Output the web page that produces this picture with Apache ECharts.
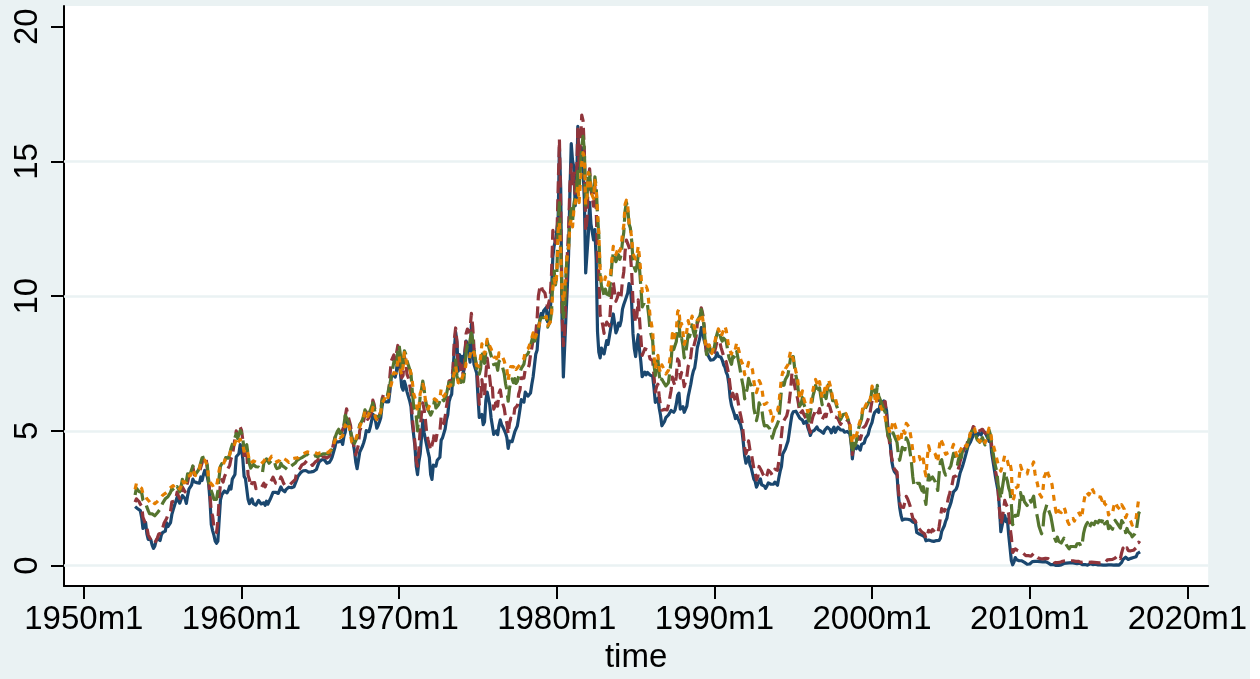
<!DOCTYPE html>
<html><head><meta charset="utf-8">
<script src="https://cdn.jsdelivr.net/npm/echarts@6/dist/echarts.min.js"></script>
<style>html,body{margin:0;padding:0;background:#fff}#c{width:1250px;height:679px}</style>
</head><body><div id="c"></div>
<script>
// monthly series starting 1953m4
const startYear = 1953, startMonth = 4;
const tb3m = [
2.19,2.16,2.11,2.04,2.04,1.79,1.38,1.44,1.60,
1.18,0.97,1.00,0.96,0.76,0.64,0.72,0.92,1.01,0.98,0.93,1.14,
1.23,1.17,1.28,1.59,1.45,1.41,1.60,1.90,2.07,2.23,2.24,2.54,
2.41,2.32,2.25,2.60,2.61,2.49,2.31,2.60,2.84,2.90,2.99,3.21,
3.11,3.10,3.08,3.06,3.06,3.29,3.16,3.37,3.53,3.58,3.29,3.04,
2.44,1.53,1.30,1.13,0.91,0.83,0.91,1.69,2.44,2.63,2.67,2.77,
2.82,2.70,2.80,2.95,2.84,3.21,3.20,3.38,4.04,4.05,4.15,4.49,
4.35,3.96,3.31,3.23,3.29,2.46,2.30,2.30,2.48,2.30,2.37,2.25,
2.24,2.42,2.39,2.29,2.29,2.33,2.24,2.39,2.28,2.30,2.48,2.60,
2.72,2.73,2.72,2.73,2.68,2.73,2.92,2.82,2.78,2.74,2.83,2.87,
2.91,2.92,2.89,2.90,2.93,2.99,3.18,3.32,3.38,3.45,3.52,3.52,
3.52,3.53,3.54,3.47,3.48,3.48,3.46,3.50,3.53,3.57,3.64,3.84,
3.81,3.93,3.93,3.93,3.89,3.80,3.84,3.84,3.92,4.03,4.08,4.37,
4.59,4.65,4.59,4.62,4.64,4.50,4.80,4.96,5.37,5.35,5.32,4.96,
4.72,4.56,4.26,3.84,3.60,3.54,4.21,4.27,4.42,4.56,4.73,5.01,
5.08,4.97,5.14,5.36,5.62,5.54,5.38,5.10,5.20,5.33,5.49,5.92,
6.18,6.16,6.08,6.15,6.08,6.49,7.00,6.98,7.09,7.00,7.24,7.82,
7.87,7.13,6.63,6.51,6.84,6.68,6.45,6.41,6.12,5.90,5.28,4.87,
4.44,3.70,3.38,3.86,4.14,4.75,5.40,4.94,4.69,4.46,4.22,4.01,
3.38,3.20,3.73,3.71,3.69,3.91,3.98,4.02,4.66,4.74,4.78,5.07,
5.41,5.60,6.09,6.26,6.36,7.19,8.01,8.67,8.29,7.22,7.83,7.45,
7.77,7.12,7.96,8.33,8.23,7.90,7.55,8.96,8.06,7.46,7.47,7.15,
6.26,5.50,5.49,5.61,5.23,5.34,6.13,6.44,6.42,5.96,5.48,5.44,
4.87,4.88,5.00,4.86,5.20,5.41,5.23,5.14,5.08,4.92,4.75,4.35,
4.62,4.67,4.60,4.54,4.96,5.02,5.19,5.49,5.81,6.16,6.10,6.07,
6.44,6.45,6.29,6.29,6.41,6.73,7.01,7.08,7.85,7.99,8.64,9.08,
9.35,9.27,9.46,9.49,9.58,9.05,9.26,9.45,10.18,11.47,11.87,12.07,
12.04,12.81,15.53,14.00,9.15,7.00,8.13,9.26,10.32,11.58,13.89,15.66,
15.02,14.79,13.36,13.69,16.30,14.73,14.95,15.51,14.70,13.54,10.86,10.85,
12.28,13.48,12.68,12.70,12.09,12.47,11.35,8.68,7.92,7.71,8.07,7.94,
7.86,8.11,8.35,8.21,8.19,8.79,9.08,9.34,9.00,8.64,8.76,9.00,
8.90,9.09,9.52,9.69,9.83,9.87,10.12,10.47,10.37,9.74,8.61,8.06,
7.76,8.22,8.57,8.00,7.56,7.01,7.05,7.18,7.08,7.17,7.20,7.07,
7.04,7.03,6.59,6.06,6.12,6.21,5.84,5.57,5.19,5.18,5.35,5.49,
5.45,5.59,5.56,5.76,5.75,5.69,5.78,6.00,6.32,6.40,5.81,5.80,
5.90,5.69,5.69,5.92,6.27,6.50,6.73,7.02,7.23,7.34,7.68,8.09,
8.29,8.48,8.83,8.70,8.40,8.22,7.92,7.91,7.72,7.63,7.65,7.64,
7.64,7.74,7.90,7.77,7.74,7.73,7.62,7.45,7.36,7.17,7.06,6.74,
6.22,5.94,5.91,5.65,5.46,5.57,5.58,5.33,5.22,4.99,4.56,4.07,
3.80,3.84,4.04,3.75,3.63,3.66,3.21,3.13,2.91,2.86,3.13,3.22,
3.00,2.93,2.95,2.87,2.96,3.07,3.04,3.02,2.95,3.02,3.10,3.06,
2.98,3.25,3.50,3.68,4.14,4.14,4.33,4.48,4.62,4.95,5.29,5.60,
5.71,5.77,5.73,5.65,5.67,5.47,5.42,5.40,5.28,5.28,5.36,5.14,
5.00,4.83,4.96,4.95,5.02,5.09,5.15,5.05,5.09,4.99,5.03,4.91,
5.03,5.01,5.14,5.16,5.05,4.93,5.05,5.14,4.95,4.97,5.14,5.16,
5.04,5.09,5.03,4.95,5.00,4.98,4.96,4.90,4.61,3.96,4.41,4.39,
4.34,4.44,4.44,4.29,4.50,4.57,4.55,4.72,4.68,4.86,5.07,5.20,
5.32,5.55,5.69,5.66,5.79,5.69,5.96,6.09,6.00,6.11,6.17,5.77,
5.15,4.88,4.42,3.87,3.62,3.49,3.51,3.36,2.64,2.16,1.87,1.69,
1.65,1.73,1.79,1.72,1.73,1.70,1.68,1.62,1.63,1.58,1.23,1.19,
1.17,1.17,1.13,1.13,1.07,0.92,0.90,0.95,0.94,0.92,0.93,0.90,
0.88,0.93,0.94,0.94,1.02,1.27,1.33,1.48,1.65,1.76,2.07,2.19,
2.33,2.54,2.74,2.78,2.84,2.97,3.22,3.44,3.42,3.71,3.88,3.89,
4.24,4.43,4.51,4.60,4.72,4.79,4.95,4.96,4.81,4.92,4.94,4.85,
4.98,5.03,4.94,4.87,4.73,4.61,4.82,4.20,3.89,3.90,3.27,3.00,
2.75,2.12,1.26,1.29,1.73,1.86,1.63,1.72,1.13,0.67,0.19,0.03,
0.13,0.30,0.22,0.16,0.18,0.18,0.18,0.17,0.12,0.07,0.05,0.05,
0.06,0.11,0.15,0.16,0.16,0.12,0.16,0.16,0.15,0.13,0.14,0.14,
0.15,0.13,0.10,0.06,0.04,0.04,0.04,0.02,0.01,0.02,0.01,0.01,
0.03,0.09,0.08,0.08,0.09,0.09,0.10,0.10,0.11,0.10,0.09,0.07,
0.07,0.10,0.09,0.06,0.04,0.05,0.04,0.04,0.02,0.05,0.07,0.07,
0.04,0.05,0.05,0.03,0.03,0.04,0.03,0.03,0.02,0.02,0.02,0.03,
0.03,0.02,0.03,0.02,0.02,0.02,0.03,0.07,0.02,0.02,0.12,0.23,
0.26,0.31,0.29,0.23,0.27,0.27,0.30,0.30,0.29,0.33,0.45,0.51,
0.51];
const gs1 = [
2.36,2.48,2.45,2.38,2.28,2.20,1.79,1.67,1.66,
1.41,1.14,1.13,0.96,0.85,0.82,0.84,0.88,1.03,1.17,1.14,1.21,
1.39,1.57,1.59,1.75,1.90,1.91,2.02,2.37,2.36,2.39,2.48,2.73,
2.58,2.49,2.61,2.92,2.94,2.74,2.76,3.10,3.35,3.28,3.44,3.68,
3.37,3.38,3.42,3.49,3.48,3.65,3.81,4.01,4.07,4.01,3.57,3.18,
2.65,1.99,1.84,1.45,1.37,1.23,1.61,2.50,3.05,3.19,3.10,3.29,
3.36,3.54,3.61,3.72,3.96,4.07,4.39,4.42,5.00,4.80,4.81,5.14,
5.03,4.66,4.02,4.04,4.21,3.36,3.20,2.95,3.07,3.04,3.08,2.86,
2.81,2.93,2.88,2.88,2.87,3.06,2.92,3.06,3.06,3.05,3.07,3.18,
3.28,3.28,3.06,2.99,3.03,3.03,3.29,3.20,3.06,2.98,3.00,3.01,
3.04,3.01,3.03,3.11,3.12,3.20,3.48,3.53,3.57,3.64,3.74,3.81,
3.79,3.78,3.91,3.91,3.84,3.83,3.72,3.74,3.84,3.86,3.91,4.02,
3.94,4.03,4.06,4.04,4.03,3.99,3.98,4.07,4.20,4.30,4.37,4.72,
4.88,4.94,4.97,4.90,4.93,4.97,5.17,5.54,5.82,5.58,5.54,5.20,
4.75,4.71,4.35,4.11,4.15,4.48,5.01,5.13,5.24,5.37,5.61,5.71,
5.43,5.41,5.58,5.71,6.14,5.98,5.65,5.43,5.45,5.57,5.75,6.19,
6.34,6.41,6.34,6.26,6.42,7.04,7.60,7.54,7.82,7.64,7.89,8.17,
8.10,7.59,6.97,7.06,7.75,7.55,7.10,6.98,6.73,6.43,5.51,5.00,
4.57,3.89,3.69,4.30,5.04,5.64,6.04,5.80,5.41,4.91,4.67,4.60,
4.28,4.27,4.67,4.96,4.64,4.93,4.96,4.98,5.52,5.52,5.27,5.52,
5.89,6.19,6.85,6.85,6.89,7.31,8.39,8.82,8.31,7.40,7.57,7.27,
7.42,6.88,7.76,8.62,8.78,8.67,8.80,9.36,8.87,8.05,7.66,7.31,
6.83,5.98,6.11,6.90,6.39,6.29,7.11,7.70,7.75,6.95,6.49,6.60,
5.81,5.91,6.21,5.92,6.40,6.52,6.20,6.00,5.84,5.50,5.29,4.89,
5.29,5.47,5.50,5.44,5.84,5.80,5.94,6.37,6.53,6.97,6.95,6.96,
7.28,7.34,7.31,7.45,7.82,8.09,8.39,8.31,8.64,9.14,10.01,10.30,
10.41,10.24,10.25,10.12,10.12,9.57,9.64,9.98,10.84,12.44,12.39,11.98,
12.06,13.92,15.82,13.30,9.39,8.16,8.65,10.24,11.52,12.49,14.15,14.88,
14.08,14.57,13.71,14.32,16.20,14.86,15.72,16.72,16.52,15.38,12.41,12.85,
14.32,14.73,13.95,13.98,13.34,14.07,13.24,11.43,10.85,9.32,9.16,8.91,
8.62,8.92,9.04,8.98,8.90,9.66,10.20,10.53,10.16,9.81,9.94,10.11,
9.90,10.04,10.59,10.90,11.66,12.08,12.03,11.82,11.58,10.90,9.82,9.33,
9.02,9.29,9.86,9.14,8.46,7.80,7.86,8.05,8.07,8.01,7.88,7.67,
7.73,7.61,7.03,6.44,6.65,6.73,6.27,5.93,5.77,5.72,5.80,5.87,
5.78,5.96,6.03,6.50,7.00,6.80,6.68,7.03,7.67,7.59,6.96,7.17,
6.99,6.64,6.71,7.01,7.40,7.49,7.75,8.17,8.09,8.11,8.48,8.99,
9.05,9.25,9.57,9.36,8.98,8.44,7.89,8.18,8.22,7.99,7.77,7.72,
7.92,8.11,8.35,8.40,8.32,8.10,7.94,7.78,7.76,7.55,7.31,7.05,
6.64,6.27,6.40,6.24,6.13,6.36,6.31,5.78,5.57,5.33,4.89,4.38,
4.15,4.29,4.63,4.30,4.19,4.17,3.60,3.47,3.18,3.30,3.68,3.71,
3.50,3.39,3.33,3.24,3.36,3.54,3.47,3.44,3.36,3.39,3.58,3.61,
3.54,3.87,4.32,4.82,5.31,5.27,5.48,5.56,5.76,6.11,6.54,7.14,
7.05,6.70,6.43,6.27,6.00,5.64,5.59,5.75,5.62,5.59,5.43,5.31,
5.09,4.94,5.34,5.54,5.64,5.81,5.85,5.67,5.83,5.55,5.42,5.47,
5.61,5.53,5.80,5.99,5.87,5.69,5.54,5.56,5.52,5.46,5.46,5.53,
5.24,5.31,5.39,5.38,5.44,5.41,5.36,5.21,4.71,4.12,4.53,4.52,
4.51,4.70,4.78,4.69,4.85,5.10,5.03,5.20,5.25,5.43,5.55,5.84,
6.12,6.22,6.22,6.15,6.33,6.17,6.08,6.18,6.13,6.01,6.09,5.60,
4.81,4.68,4.30,3.98,3.78,3.58,3.62,3.47,2.82,2.33,2.18,2.22,
2.16,2.23,2.57,2.48,2.35,2.20,1.96,1.76,1.72,1.65,1.49,1.45,
1.36,1.30,1.24,1.27,1.18,1.01,1.12,1.31,1.24,1.25,1.34,1.31,
1.24,1.24,1.19,1.43,1.78,2.12,2.10,2.02,2.12,2.23,2.50,2.67,
2.86,3.03,3.30,3.32,3.33,3.36,3.64,3.87,3.85,4.18,4.33,4.35,
4.45,4.68,4.77,4.90,5.00,5.16,5.22,5.08,4.97,5.01,5.01,4.94,
5.06,5.05,4.92,4.93,4.91,4.96,4.96,4.47,4.14,4.10,3.50,3.26,
2.71,2.05,1.54,1.74,2.06,2.42,2.28,2.18,1.91,1.42,1.07,0.49,
0.44,0.62,0.64,0.55,0.50,0.51,0.48,0.46,0.40,0.37,0.31,0.37,
0.35,0.35,0.40,0.45,0.37,0.32,0.29,0.26,0.26,0.23,0.25,0.29,
0.27,0.29,0.26,0.25,0.19,0.18,0.19,0.11,0.10,0.11,0.11,0.12,
0.12,0.16,0.19,0.18,0.19,0.19,0.19,0.18,0.18,0.18,0.18,0.16,
0.15,0.16,0.15,0.12,0.12,0.14,0.12,0.13,0.12,0.12,0.12,0.13,
0.12,0.12,0.13,0.11,0.10,0.10,0.11,0.11,0.11,0.10,0.13,0.21,
0.20,0.22,0.25,0.23,0.24,0.28,0.30,0.38,0.37,0.26,0.48,0.65,
0.54,0.53,0.66,0.56,0.59,0.55,0.51,0.57,0.59,0.66,0.74,0.87,
0.83];
const gs5 = [
2.62,2.87,2.94,2.75,2.80,2.71,2.43,2.42,2.32,
2.17,2.04,1.93,1.87,1.92,1.92,1.85,1.90,1.96,2.02,2.09,2.16,
2.32,2.38,2.48,2.55,2.56,2.59,2.72,2.86,2.85,2.76,2.81,2.93,
2.84,2.74,2.93,3.20,3.08,2.97,3.12,3.41,3.47,3.40,3.56,3.70,
3.47,3.39,3.46,3.53,3.64,3.83,4.00,4.00,4.03,4.08,3.72,3.08,
2.88,2.78,2.64,2.46,2.41,2.46,2.77,3.29,3.69,3.78,3.70,3.82,
4.01,3.96,3.99,4.12,4.35,4.50,4.58,4.57,4.90,4.72,4.75,5.01,
4.92,4.69,4.31,4.29,4.49,4.12,3.79,3.62,3.61,3.76,3.81,3.67,
3.67,3.66,3.60,3.57,3.47,3.81,3.84,3.96,3.90,3.80,3.82,3.91,
3.94,3.89,3.68,3.60,3.66,3.64,3.80,3.71,3.70,3.64,3.60,3.56,
3.58,3.66,3.68,3.74,3.72,3.81,3.89,3.89,3.96,3.97,4.01,4.04,
4.07,4.03,4.14,4.15,4.05,4.02,4.03,4.05,4.08,4.07,4.04,4.09,
4.10,4.15,4.15,4.15,4.15,4.15,4.15,4.20,4.25,4.34,4.46,4.72,
4.86,4.98,5.06,4.90,4.94,5.01,5.22,5.58,5.62,5.38,5.43,5.07,
4.71,4.74,4.54,4.51,4.75,5.01,5.23,5.31,5.40,5.57,5.78,5.75,
5.54,5.59,5.76,5.69,6.04,5.85,5.60,5.50,5.48,5.55,5.66,6.12,
6.25,6.34,6.41,6.30,6.54,6.75,7.01,7.03,7.57,7.51,7.53,7.96,
8.17,7.82,7.21,7.50,7.97,7.85,7.59,7.57,7.29,7.12,6.47,5.95,
5.89,5.56,5.00,5.65,6.28,6.53,6.85,6.55,6.14,5.93,5.78,5.69,
5.59,5.69,5.87,6.17,5.85,5.91,5.97,6.02,6.25,6.18,6.12,6.16,
6.34,6.60,6.80,6.67,6.80,6.69,7.33,7.63,7.05,6.77,6.92,6.80,
6.95,6.82,7.31,7.92,8.18,8.10,8.38,8.63,8.37,7.97,7.68,7.31,
7.41,7.11,7.30,7.99,7.72,7.51,7.92,8.33,8.37,7.97,7.80,7.76,
7.46,7.45,7.49,7.25,7.59,7.61,7.49,7.31,7.13,6.75,6.52,6.10,
6.58,6.83,6.93,6.79,6.94,6.76,6.84,7.03,7.04,7.32,7.34,7.48,
7.77,7.83,7.86,7.98,8.18,8.36,8.54,8.33,8.43,8.61,8.84,9.08,
9.20,9.13,9.20,9.25,9.24,8.85,8.90,9.06,9.41,10.63,10.93,10.42,
10.74,12.60,13.47,11.84,9.95,9.21,9.53,10.84,11.62,11.86,12.83,13.25,
12.77,13.41,13.41,13.99,14.63,13.95,14.79,15.56,15.93,15.41,13.38,13.60,
14.65,14.54,13.98,14.00,13.75,14.43,14.07,13.00,12.25,10.80,10.38,10.22,
10.03,10.26,10.08,10.02,10.03,10.63,11.21,11.63,11.43,11.28,11.41,11.54,
11.37,11.54,12.02,12.37,13.17,13.48,13.27,12.68,12.53,12.06,11.33,11.07,
10.93,11.13,11.52,11.01,10.34,9.60,9.70,9.81,9.81,9.69,9.28,8.73,
8.68,8.34,7.46,7.05,7.52,7.64,7.06,6.80,6.92,6.83,6.76,6.67,
6.64,6.79,6.79,7.57,8.26,8.02,8.01,8.32,8.94,9.08,8.35,8.45,
8.18,7.71,7.83,8.19,8.58,8.49,8.66,8.94,8.69,8.51,8.79,9.09,
9.15,9.27,9.51,9.30,8.91,8.29,7.83,8.09,8.17,7.97,7.81,7.75,
8.12,8.42,8.60,8.77,8.74,8.43,8.33,8.44,8.51,8.33,8.02,7.73,
7.70,7.47,7.77,7.70,7.70,7.94,7.91,7.43,7.14,6.87,6.62,6.19,
6.24,6.58,6.95,6.78,6.69,6.48,5.84,5.60,5.38,5.60,6.04,6.08,
5.83,5.43,5.19,5.13,5.20,5.22,5.09,5.03,4.73,4.71,5.06,5.15,
5.09,5.40,5.94,6.52,6.78,6.70,6.91,6.88,7.08,7.40,7.72,7.78,
7.76,7.37,7.05,6.86,6.41,5.93,6.01,6.24,6.00,5.86,5.69,5.51,
5.36,5.38,5.97,6.30,6.48,6.69,6.64,6.39,6.60,6.27,5.97,6.07,
6.33,6.20,6.54,6.76,6.57,6.38,6.12,6.16,6.11,5.93,5.80,5.77,
5.42,5.49,5.61,5.61,5.63,5.52,5.46,5.27,4.62,4.18,4.54,4.45,
4.60,4.91,5.14,5.08,5.44,5.81,5.68,5.84,5.80,6.03,5.97,6.19,
6.58,6.68,6.50,6.26,6.69,6.30,6.18,6.06,5.93,5.78,5.70,5.17,
4.86,4.89,4.64,4.76,4.93,4.81,4.76,4.57,4.12,3.91,3.97,4.39,
4.34,4.30,4.74,4.65,4.49,4.19,3.81,3.29,2.94,2.95,3.05,3.03,
3.05,2.90,2.78,2.93,2.52,2.27,2.87,3.37,3.18,3.19,3.29,3.27,
3.12,3.07,2.79,3.39,3.85,3.93,3.69,3.47,3.36,3.35,3.53,3.60,
3.71,3.77,4.17,4.00,3.85,3.77,3.98,4.12,4.01,4.33,4.45,4.39,
4.35,4.57,4.72,4.90,5.00,5.07,5.04,4.82,4.67,4.69,4.58,4.53,
4.75,4.71,4.48,4.59,4.67,5.03,4.88,4.43,4.20,4.20,3.67,3.49,
2.98,2.78,2.48,2.84,3.15,3.49,3.30,3.14,2.88,2.73,2.29,1.52,
1.60,1.87,1.82,1.86,2.13,2.71,2.46,2.57,2.37,2.33,2.23,2.34,
2.48,2.36,2.43,2.58,2.18,2.00,1.76,1.47,1.41,1.18,1.35,1.93,
1.99,2.26,2.11,2.17,1.84,1.58,1.54,1.02,0.90,1.06,0.91,0.89,
0.84,0.83,1.02,0.89,0.76,0.71,0.62,0.71,0.67,0.71,0.67,0.70,
0.81,0.85,0.82,0.71,0.84,1.20,1.40,1.52,1.60,1.37,1.37,1.58,
1.65,1.52,1.64,1.70,1.59,1.68,1.70,1.63,1.77,1.55,1.62,1.64,
1.37,1.47,1.52,1.35,1.54,1.68,1.63,1.54,1.49,1.39,1.67,1.70,
1.52,1.22,1.38,1.26,1.30,1.17,1.07,1.13,1.18,1.27,1.60,1.96,
1.92];
const gs10 = [
2.83,3.05,3.11,2.93,2.95,2.87,2.66,2.68,2.59,
2.48,2.47,2.37,2.29,2.37,2.38,2.30,2.36,2.38,2.43,2.48,2.51,
2.61,2.65,2.68,2.75,2.76,2.78,2.90,2.97,2.97,2.88,2.89,2.96,
2.90,2.84,2.96,3.18,3.07,3.00,3.11,3.33,3.38,3.34,3.49,3.59,
3.46,3.34,3.41,3.48,3.60,3.80,3.93,3.93,3.92,3.97,3.72,3.21,
3.09,3.05,2.98,2.88,2.92,2.97,3.20,3.54,3.76,3.80,3.74,3.86,
4.02,3.96,3.99,4.12,4.31,4.34,4.40,4.43,4.68,4.53,4.53,4.69,
4.72,4.49,4.25,4.28,4.35,4.15,3.90,3.80,3.80,3.89,3.93,3.84,
3.84,3.78,3.74,3.78,3.71,3.88,3.92,4.04,3.98,3.92,3.94,4.06,
4.08,4.04,3.93,3.84,3.87,3.91,4.01,3.98,3.98,3.93,3.92,3.86,
3.83,3.92,3.93,3.97,3.93,3.99,4.02,4.00,4.08,4.11,4.12,4.13,
4.17,4.15,4.22,4.23,4.20,4.17,4.19,4.19,4.20,4.19,4.15,4.18,
4.19,4.21,4.21,4.20,4.21,4.21,4.20,4.25,4.29,4.35,4.45,4.62,
4.61,4.83,4.87,4.75,4.78,4.81,5.02,5.22,5.18,5.01,5.16,4.84,
4.58,4.63,4.54,4.59,4.85,5.02,5.16,5.28,5.30,5.48,5.75,5.70,
5.53,5.56,5.74,5.64,5.87,5.72,5.50,5.42,5.46,5.58,5.70,6.03,
6.04,6.19,6.30,6.17,6.32,6.57,6.72,6.69,7.16,7.10,7.14,7.65,
7.79,7.24,7.07,7.39,7.91,7.84,7.46,7.53,7.39,7.33,6.84,6.39,
6.24,6.11,5.70,5.83,6.39,6.52,6.73,6.58,6.14,5.93,5.81,5.93,
5.95,6.08,6.07,6.19,6.13,6.11,6.11,6.21,6.55,6.48,6.28,6.36,
6.46,6.64,6.71,6.67,6.85,6.90,7.13,7.40,7.09,6.79,6.73,6.74,
6.99,6.96,7.21,7.51,7.58,7.54,7.81,8.04,8.04,7.90,7.68,7.43,
7.50,7.39,7.73,8.23,8.06,7.86,8.06,8.40,8.43,8.14,8.05,8.00,
7.74,7.79,7.73,7.56,7.90,7.86,7.83,7.77,7.59,7.41,7.29,6.87,
7.21,7.39,7.46,7.37,7.46,7.28,7.33,7.40,7.34,7.52,7.58,7.69,
7.96,8.03,8.04,8.15,8.35,8.46,8.64,8.41,8.42,8.64,8.81,9.01,
9.10,9.10,9.12,9.18,9.25,8.91,8.95,9.03,9.33,10.30,10.65,10.39,
10.80,12.41,12.75,11.47,10.18,9.78,10.25,11.10,11.51,11.75,12.68,12.84,
12.57,13.19,13.12,13.68,14.10,13.47,14.28,14.94,15.32,15.15,13.39,13.72,
14.59,14.43,13.86,13.87,13.62,14.30,13.95,13.06,12.34,10.91,10.55,10.54,
10.46,10.72,10.51,10.40,10.38,10.85,11.38,11.85,11.65,11.54,11.69,11.83,
11.67,11.84,12.32,12.63,13.41,13.56,13.36,12.72,12.52,12.16,11.57,11.50,
11.38,11.51,11.86,11.43,10.85,10.16,10.31,10.33,10.37,10.24,9.78,9.26,
9.19,8.70,7.78,7.30,7.71,7.80,7.30,7.17,7.45,7.43,7.25,7.11,
7.08,7.25,7.25,8.02,8.61,8.40,8.45,8.76,9.42,9.52,8.86,8.99,
8.67,8.21,8.37,8.72,9.09,8.92,9.06,9.26,8.98,8.80,8.96,9.11,
9.09,9.17,9.36,9.18,8.86,8.28,8.02,8.11,8.19,8.01,7.87,7.84,
8.21,8.47,8.59,8.79,8.76,8.48,8.47,8.75,8.89,8.72,8.39,8.08,
8.09,7.85,8.11,8.04,8.07,8.28,8.27,7.90,7.65,7.53,7.42,7.09,
7.03,7.34,7.54,7.48,7.39,7.26,6.84,6.59,6.42,6.59,6.87,6.77,
6.60,6.26,5.98,5.97,6.04,5.96,5.81,5.68,5.36,5.33,5.72,5.77,
5.75,5.97,6.48,6.97,7.18,7.10,7.30,7.24,7.46,7.74,7.96,7.81,
7.78,7.47,7.20,7.06,6.63,6.17,6.28,6.49,6.20,6.04,5.93,5.71,
5.65,5.81,6.27,6.51,6.74,6.91,6.87,6.64,6.83,6.53,6.20,6.30,
6.58,6.42,6.69,6.89,6.71,6.49,6.22,6.30,6.21,6.03,5.88,5.81,
5.54,5.57,5.65,5.64,5.65,5.50,5.46,5.34,4.81,4.53,4.83,4.65,
4.72,5.00,5.23,5.18,5.54,5.90,5.79,5.94,5.92,6.11,6.03,6.28,
6.66,6.52,6.26,5.99,6.44,6.10,6.05,5.83,5.80,5.74,5.72,5.24,
5.16,5.10,4.89,5.14,5.39,5.28,5.24,4.97,4.73,4.57,4.65,5.09,
5.04,4.91,5.28,5.21,5.16,4.93,4.65,4.26,3.87,3.94,4.05,4.03,
4.05,3.90,3.81,3.96,3.57,3.33,3.98,4.45,4.27,4.29,4.30,4.27,
4.15,4.08,3.83,4.35,4.72,4.73,4.50,4.28,4.13,4.10,4.19,4.23,
4.22,4.17,4.50,4.34,4.14,4.00,4.18,4.26,4.20,4.46,4.54,4.47,
4.42,4.57,4.72,4.99,5.11,5.11,5.09,4.88,4.72,4.73,4.60,4.56,
4.76,4.72,4.56,4.69,4.75,5.10,5.00,4.67,4.52,4.53,4.15,4.10,
3.74,3.74,3.51,3.68,3.88,4.10,4.01,3.89,3.69,3.81,3.53,2.42,
2.52,2.87,2.82,2.93,3.29,3.72,3.56,3.59,3.40,3.39,3.40,3.59,
3.73,3.69,3.73,3.85,3.42,3.20,3.01,2.70,2.65,2.54,2.76,3.29,
3.39,3.58,3.41,3.46,3.17,3.00,3.00,2.30,1.98,2.15,2.01,1.98,
1.97,1.97,2.17,2.05,1.80,1.62,1.53,1.68,1.72,1.75,1.65,1.72,
1.91,1.98,1.96,1.76,1.93,2.30,2.58,2.74,2.81,2.62,2.72,2.90,
2.86,2.71,2.72,2.71,2.56,2.60,2.54,2.42,2.53,2.30,2.33,2.21,
1.88,1.98,2.04,1.94,2.20,2.36,2.32,2.17,2.17,2.07,2.26,2.24,
2.09,1.78,1.89,1.81,1.81,1.64,1.50,1.56,1.63,1.76,2.14,2.49,
2.43];
const xTicks = [1950,1960,1970,1980,1990,2000,2010,2020];
const yTicks = [0,5,10,15,20];
const gridVals = [0,5,10,15];
const xTitle = 'time';

function toPairs(arr){
  return arr.map((v,i)=>[startYear + (startMonth-1+i)/12, v]);
}
const font = 'Liberation Sans, Arial, sans-serif';
const chart = echarts.init(document.getElementById('c'), null, {renderer:'canvas'});
function mk(name, arr, color, type, extra){
  return Object.assign({
    name, type:'line', data: toPairs(arr), showSymbol:false, symbol:'none',
    lineStyle:{color, width:3.2, type, cap:'butt', join:'round'},
    emphasis:{disabled:true}, silent:true, animation:false
  }, extra||{});
}
chart.setOption({
  backgroundColor:'#EAF2F3',
  animation:false,
  grid:{left:64, right:33, top:6, bottom:86, show:true, backgroundColor:'#ffffff', borderWidth:0, containLabel:false},
  xAxis:{
    type:'value', min:1948.741, max:2021.32,
    name:xTitle, nameLocation:'middle', nameGap:52,
    nameTextStyle:{color:'#000', fontSize:33, fontFamily:font},
    axisLine:{show:true, onZero:false, lineStyle:{color:'#000', width:2}},
    axisTick:{show:true, length:13, lineStyle:{color:'#000', width:2}, customValues:xTicks},
    axisLabel:{color:'#000', fontSize:33, fontFamily:font, margin:17, customValues:xTicks, formatter:v=>v+'m1'},
    splitLine:{show:false}
  },
  yAxis:{
    type:'value', min:-0.76, max:20.77,
    axisLine:{show:true, onZero:false, lineStyle:{color:'#000', width:2}},
    axisTick:{show:true, length:13, lineStyle:{color:'#000', width:2}, customValues:yTicks},
    axisLabel:{color:'#000', fontSize:33, fontFamily:font, margin:20, rotate:90, customValues:yTicks},
    splitLine:{show:false}
  },
  series:[
    mk('3-month', tb3m, '#1A476F', 'solid', {
      markLine:{silent:true, symbol:'none', z:1, animation:false,
        label:{show:false}, emphasis:{disabled:true},
        lineStyle:{color:'#EAF2F3', width:2.5, type:'solid'},
        data: gridVals.map(v=>({yAxis:v}))}
    }),
    mk('1-year', gs1, '#90353B', [12,6]),
    mk('5-year', gs5, '#55752F', [22,6]),
    mk('10-year', gs10, '#E37E00', [6,6])
  ]
});
</script></body></html>
